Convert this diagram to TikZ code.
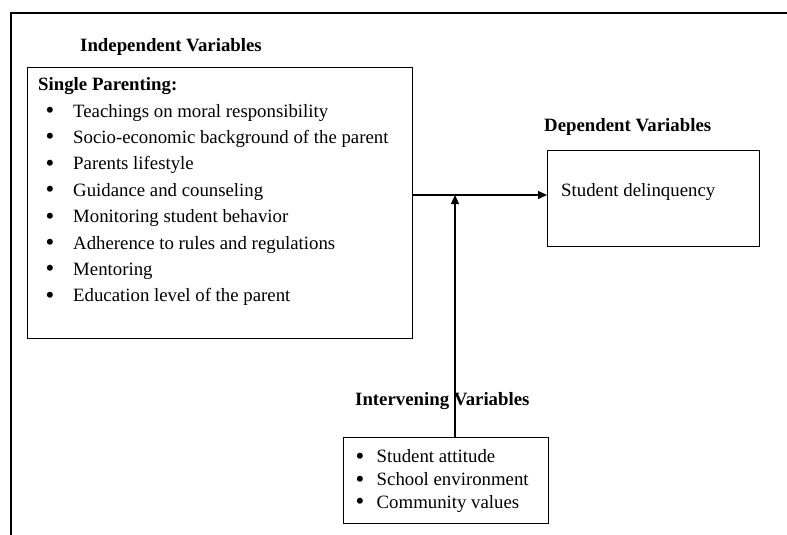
\documentclass[tikz,border=0pt]{standalone}
\usepackage{fontspec}
\setmainfont{Liberation Serif}
\usetikzlibrary{arrows.meta,positioning}

\begin{document}
\begin{tikzpicture}[x=1pt,y=-1pt,
	every node/.style={font=\fontsize{18.8}{22}\selectfont,inner sep=0pt},
	frame/.style={draw,line width=1.2pt,anchor=north west},
	title/.style={anchor=base west,font=\fontsize{18.8}{22}\selectfont\bfseries},
	txt/.style={anchor=base west},
	dot/.style={anchor=base,font=\fontsize{22}{22}\selectfont\bfseries},
	arr/.style={line width=1.2pt,-{Triangle[length=9pt,width=8pt]}}]
	\useasboundingbox (0,0) rectangle (787,535);
	\draw[line width=2.2pt] (11,535)--(11,13)--(787,13);
	\node[frame,minimum width=385pt,minimum height=271pt] (indep) at (27,67) {};
	\node[frame,minimum width=212pt,minimum height=96pt] (dep) at (547,150) {};
	\node[frame,minimum width=205pt,minimum height=86pt] (interv) at (343,437) {};
	\node[title] (indeptitle) at (80,52) {Independent Variables};
	\node[title] (deptitle) at (544,131) {Dependent Variables};
	\node[title] (intervtitle) at (355,405) {Intervening Variables};
	\node[title] (single) at (38,91) {Single Parenting:};
	\foreach \t [count=\i] in {Teachings on moral responsibility,
		Socio-economic background of the parent,Parents lifestyle,
		Guidance and counseling,Monitoring student behavior,
		Adherence to rules and regulations,Mentoring,
		Education level of the parent}{
		\node[dot] (pb\i) at (50,{117.5+26.4*(\i-1)}) {\textbullet};
		\node[txt] (p\i) at (73,{117+26.4*(\i-1)}) {\t};
	}
	\node[txt] (delinq) at (561,196) {Student delinquency};
	\foreach \t [count=\i] in {Student attitude,School environment,Community values}{
		\node[dot] (vb\i) at (360,{463.2+22.8*(\i-1)}) {\textbullet};
		\node[txt] (v\i) at (376.5,{462.7+22.8*(\i-1)}) {\t};
	}
	\coordinate (junc) at (455,195);
	\draw[arr] (junc -| indep.east)--(junc -| dep.west);
	\draw[arr] (interv.north -| junc)--(junc);
\end{tikzpicture}
\end{document}
